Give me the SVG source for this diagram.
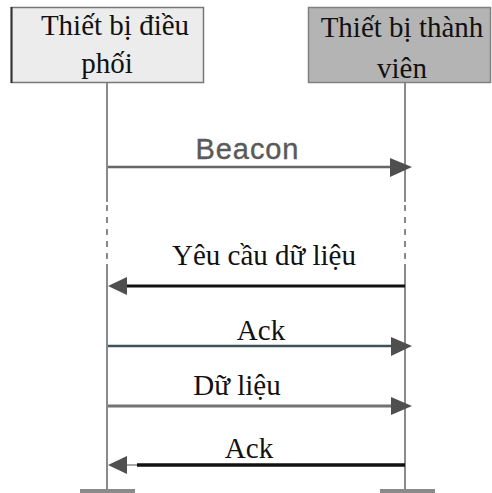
<svg xmlns="http://www.w3.org/2000/svg" width="492" height="493" viewBox="0 0 492 493">
<style>
.t{font-family:"Liberation Serif","Times New Roman",serif;font-size:29px;fill:#111;text-anchor:middle}
.s{font-family:"Liberation Sans",Arial,sans-serif;font-size:29px;fill:#5a5a5a;text-anchor:middle;stroke:#5a5a5a;stroke-width:0.4}
.life{stroke:#8a8a8a;stroke-width:2;fill:none}
.dash{stroke:#8a8a8a;stroke-width:2;stroke-dasharray:6 6;fill:none}
.head{fill:#4f4f4f}
.foot{fill:#8a8a8a}
</style>
<rect width="492" height="493" fill="#ffffff"/>
<g id="lifelines">
<line class="life" x1="107" y1="82" x2="107" y2="202"/>
<line class="dash" x1="107" y1="205" x2="107" y2="262"/>
<line class="life" x1="107" y1="264" x2="107" y2="493"/>
<line class="life" x1="405" y1="82" x2="405" y2="202"/>
<line class="dash" x1="405" y1="205" x2="405" y2="262"/>
<line class="life" x1="405" y1="264" x2="405" y2="493"/>
<rect class="foot" x="80" y="489" width="55" height="4"/>
<rect class="foot" x="380" y="489" width="55" height="4"/>
</g>
<g id="coordinator">
<rect x="11.5" y="7.5" width="192" height="75" fill="#ececec" stroke="#777" stroke-width="1.5"/>
<line x1="11.5" y1="7" x2="11.5" y2="83" stroke="#333" stroke-width="2"/>
<text class="t" x="115" y="35">Thiết bị điều</text>
<text class="t" x="107" y="73">phối</text>
</g>
<g id="member">
<rect x="308.5" y="7.5" width="182" height="75" fill="#b4b4b4" stroke="#808080" stroke-width="1.5"/>
<text class="t" x="402" y="37">Thiết bị thành</text>
<text class="t" x="402" y="78">viên</text>
</g>
<g id="connectors">
<line x1="108" y1="167" x2="393" y2="167" stroke="#666" stroke-width="2.5"/>
<polygon class="head" points="390,158 412,167 390,177"/>
<text class="s" x="247" y="159" textLength="103">Beacon</text>

<line x1="124" y1="286" x2="405" y2="286" stroke="#111" stroke-width="3"/>
<polygon class="head" points="127,277 108,286 127,295"/>
<text class="t" x="264" y="265">Yêu cầu dữ liệu</text>

<line x1="108" y1="346" x2="393" y2="346" stroke="#3e5359" stroke-width="2.5"/>
<polygon class="head" points="391,337 412,346 391,356"/>
<text class="t" x="261" y="340">Ack</text>

<line x1="108" y1="406" x2="393" y2="406" stroke="#737373" stroke-width="3"/>
<polygon class="head" points="391,397 412,406 391,415"/>
<text class="t" x="237" y="395">Dữ liệu</text>

<line x1="124" y1="465" x2="137" y2="465" stroke="#888" stroke-width="1.5"/>
<line x1="137" y1="465" x2="405" y2="465" stroke="#111" stroke-width="3.5"/>
<polygon class="head" points="127,456 108,465 127,474"/>
<text class="t" x="249" y="458">Ack</text>
</g>
</svg>
